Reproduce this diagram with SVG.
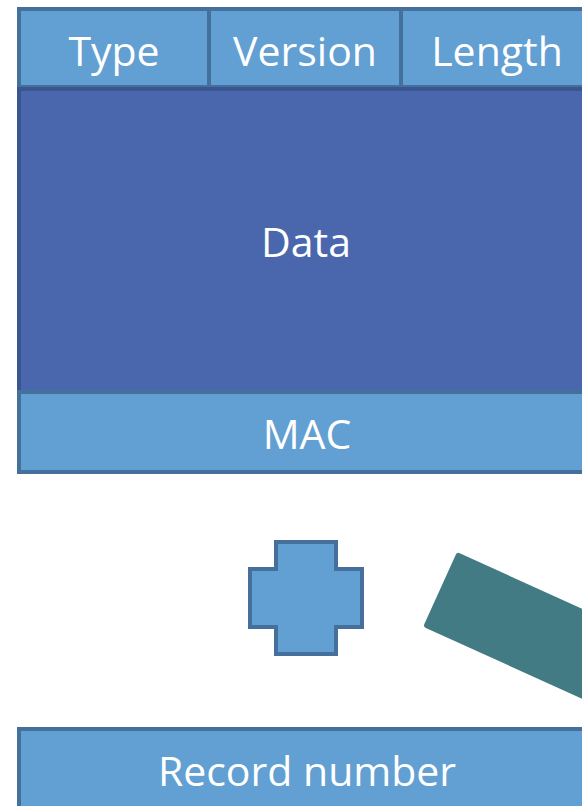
<svg xmlns="http://www.w3.org/2000/svg" width="582" height="806" viewBox="0 0 582 806">
<style>
.cell{fill:#629fd2;stroke:#45709c;stroke-width:4}
.data{fill:#4a67ae;stroke:#3a5590;stroke-width:4}
.lbl{font-family:"Open Sans","Noto Sans",sans-serif;font-size:41px;fill:#ffffff;text-anchor:middle}
</style>
<rect width="582" height="806" fill="#ffffff"/>
<g id="type"><rect class="cell" x="19" y="9" width="190" height="78"/><text class="lbl" x="114" y="66">Type</text></g>
<g id="version"><rect class="cell" x="209" y="9" width="192" height="78"/><text class="lbl" x="305" y="66">Version</text></g>
<g id="length"><rect class="cell" x="401" y="9" width="192" height="78"/><text class="lbl" x="497" y="66">Length</text></g>
<g id="data"><rect class="data" x="19" y="89" width="574" height="303"/><text class="lbl" x="306" y="257">Data</text></g>
<g id="mac"><rect class="cell" x="19" y="392" width="574" height="80"/><text class="lbl" x="307" y="449">MAC</text></g>
<g id="plus"><path class="cell" stroke-width="5" d="M276 542H336V569H362V627H336V654H276V627H250V569H276Z"/></g>
<g id="arrow"><rect x="0" y="0" width="300" height="82" rx="3" fill="#437b85" transform="translate(457 552) rotate(24.4)"/></g>
<g id="record"><rect class="cell" x="19" y="729" width="574" height="100"/><text class="lbl" x="307" y="786">Record number</text></g>
<g id="connectors"></g>
</svg>
